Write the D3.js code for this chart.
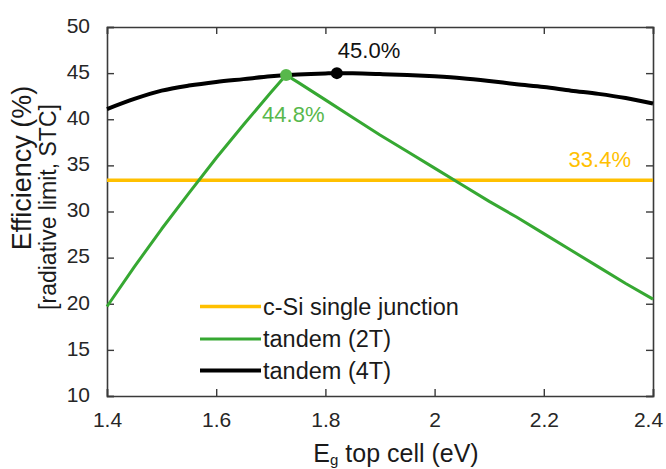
<!DOCTYPE html>
<html>
<head>
<meta charset="utf-8">
<script src="https://cdn.jsdelivr.net/npm/d3@7"></script>
<style>
  body { margin: 0; background: #fff; }
  svg { display: block; }
  text { font-family: "Liberation Sans", Arial, sans-serif; }
</style>
</head>
<body>
<svg id="chart" width="666" height="469"></svg>
<script>
// Top-cell band gap (eV) and radiative-limit efficiency (%)
const bandgap4T = [1.40, 1.45, 1.50, 1.55, 1.60, 1.65, 1.70, 1.75, 1.80, 1.82, 1.85, 1.90, 1.95, 2.00, 2.05, 2.10, 2.15, 2.20, 2.25, 2.30, 2.35, 2.40];
const eff4T     = [41.1, 42.2, 43.1, 43.65, 44.05, 44.35, 44.65, 44.85, 44.97, 45.0, 44.98, 44.9, 44.8, 44.65, 44.45, 44.15, 43.8, 43.5, 43.1, 42.75, 42.3, 41.7];

const bandgap2T = [1.40, 1.45, 1.50, 1.55, 1.60, 1.65, 1.70, 1.728, 1.75, 1.80, 1.85, 1.90, 1.95, 2.00, 2.05, 2.10, 2.15, 2.20, 2.25, 2.30, 2.35, 2.40];
const eff2T     = [19.7, 24.0, 28.1, 32.0, 35.8, 39.4, 42.9, 44.8, 44.0, 42.1, 40.2, 38.3, 36.5, 34.7, 32.9, 31.1, 29.4, 27.6, 25.8, 24.0, 22.2, 20.5];

const bandgapSi = [1.40, 2.40];
const effSi     = [33.4, 33.4];

// Optimum points
const peak4T = { eg: 1.821, eff: 45.0, label: "45.0%" };
const peak2T = { eg: 1.728, eff: 44.8, label: "44.8%" };
const siLabel = "33.4%";

const xTickValues = [1.4, 1.6, 1.8, 2.0, 2.2, 2.4];
const xTickLabels = ["1.4", "1.6", "1.8", "2", "2.2", "2.4"];
const yTickValues = [10, 15, 20, 25, 30, 35, 40, 45, 50];

const legendNames = ["c-Si single junction", "tandem (2T)", "tandem (4T)"];

const colors = { si: "#FFC000", t2: "#36a832", t2label: "#58b84c", t4: "#000000" };

const W = 666, H = 469;
const margin = { top: 27, right: 13, bottom: 73, left: 107 };
const iw = W - margin.left - margin.right;
const ih = H - margin.top - margin.bottom;

const svg = d3.select("#chart");
const g = svg.append("g").attr("transform", `translate(${margin.left},${margin.top})`);

const x = d3.scaleLinear().domain([1.4, 2.4]).range([0, iw]);
const y = d3.scaleLinear().domain([10, 50]).range([ih, 0]);

const axisColor = "#3a3a3a";
const tickLen = 7;

// Axes with inward ticks on all four sides
const xAxisB = d3.axisBottom(x).tickValues(xTickValues).tickSize(-tickLen).tickFormat((d, i) => xTickLabels[i]).tickPadding(16);
const xAxisT = d3.axisTop(x).tickValues(xTickValues).tickSize(-tickLen).tickFormat("");
const yAxisL = d3.axisLeft(y).tickValues(yTickValues).tickSize(-tickLen).tickFormat(d3.format("d")).tickPadding(17);
const yAxisR = d3.axisRight(y).tickValues(yTickValues).tickSize(-tickLen).tickFormat("");

function styleAxis(sel) {
  sel.select(".domain").attr("stroke", axisColor).attr("stroke-width", 1.6);
  sel.selectAll(".tick line").attr("stroke", axisColor).attr("stroke-width", 1.4);
  sel.selectAll("text").attr("fill", "#262626").style("font-size", "21px")
     .style("font-family", '"Liberation Sans", Arial, sans-serif');
}

const gxb = g.append("g").attr("transform", `translate(0,${ih})`).call(xAxisB).call(styleAxis);
gxb.selectAll(".tick text").attr("dy", "0.71em");
gxb.selectAll(".tick").filter(d => d === 2.4).select("text").attr("dx", -5);
g.append("g").call(xAxisT).call(styleAxis);
const gyl = g.append("g").call(yAxisL).call(styleAxis);
gyl.selectAll(".tick text").attr("dy", "0.25em");
g.append("g").attr("transform", `translate(${iw},0)`).call(yAxisR).call(styleAxis);

// Series lines
const line = d3.line().x(d => x(d[0])).y(d => y(d[1])).curve(d3.curveMonotoneX);
const lineStraight = d3.line().x(d => x(d[0])).y(d => y(d[1]));

const dataSi = bandgapSi.map((v, i) => [v, effSi[i]]);
const data4T = bandgap4T.map((v, i) => [v, eff4T[i]]);
const data2T = bandgap2T.map((v, i) => [v, eff2T[i]]);

g.append("path").datum(dataSi).attr("d", lineStraight)
  .attr("fill", "none").attr("stroke", colors.si).attr("stroke-width", 3.5);
g.append("path").datum(data4T).attr("d", line)
  .attr("fill", "none").attr("stroke", colors.t4).attr("stroke-width", 4);
g.append("path").datum(data2T).attr("d", lineStraight)
  .attr("fill", "none").attr("stroke", colors.t2).attr("stroke-width", 3)
  .attr("stroke-linejoin", "round");

// Optimum markers
g.append("circle").attr("cx", x(peak4T.eg)).attr("cy", y(peak4T.eff)).attr("r", 6).attr("fill", "#000");
g.append("circle").attr("cx", x(peak2T.eg)).attr("cy", y(peak2T.eff)).attr("r", 6).attr("fill", colors.t2label);

// Value annotations
g.append("text").attr("x", x(peak4T.eg) + 1).attr("y", y(peak4T.eff) - 15)
  .attr("fill", "#111").style("font-size", "22px").text(peak4T.label);
g.append("text").attr("x", x(peak2T.eg) - 24).attr("y", y(peak2T.eff) + 47)
  .attr("fill", colors.t2label).style("font-size", "22px").text(peak2T.label);
g.append("text").attr("x", iw - 22).attr("y", y(effSi[0]) - 13).attr("text-anchor", "end")
  .attr("fill", colors.si).style("font-size", "22px").text(siLabel);

// Legend
const legendColors = [colors.si, colors.t2, colors.t4];
const legendWidths = [3.5, 3, 4];
const legendY = [306.5, 339, 370.5];
const lg = svg.append("g");
legendNames.forEach((name, i) => {
  lg.append("line").attr("x1", 200).attr("x2", 261).attr("y1", legendY[i]).attr("y2", legendY[i])
    .attr("stroke", legendColors[i]).attr("stroke-width", legendWidths[i]);
  lg.append("text").attr("x", 263).attr("y", legendY[i]).attr("dy", "0.36em")
    .attr("fill", "#1a1a1a").style("font-size", "23.5px").text(name);
});

// Axis titles
const xt = svg.append("text").attr("x", 396).attr("y", 462).attr("text-anchor", "middle")
  .attr("fill", "#1a1a1a").style("font-size", "25px");
xt.append("tspan").text("E");
xt.append("tspan").attr("dy", 3).style("font-size", "15px").text("g");
xt.append("tspan").attr("dy", -3).text(" top cell (eV)");

svg.append("text").attr("transform", "translate(31,168) rotate(-90)").attr("text-anchor", "middle")
  .attr("fill", "#1a1a1a").style("font-size", "27px").text("Efficiency (%)");
svg.append("text").attr("transform", "translate(56,207) rotate(-90)").attr("text-anchor", "middle")
  .attr("fill", "#1a1a1a").style("font-size", "23px").text("[radiative limit, STC]");
</script>
</body>
</html>
